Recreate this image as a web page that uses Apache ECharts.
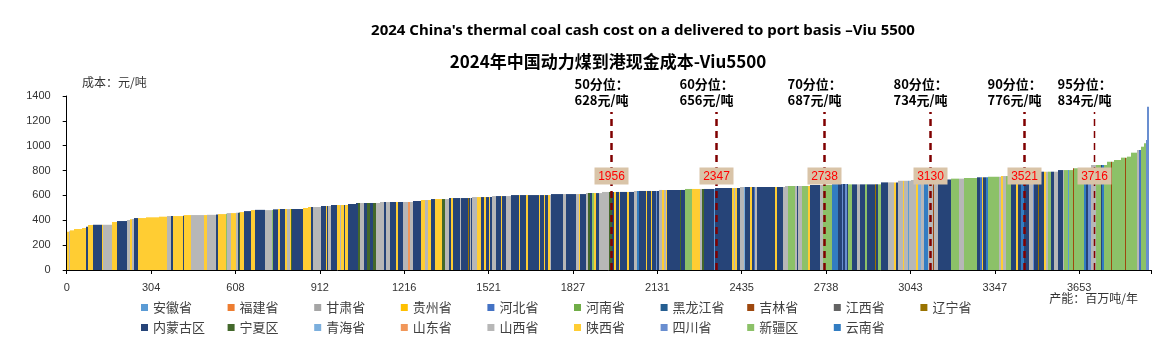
<!DOCTYPE html>
<html><head><meta charset="utf-8">
<script src="https://cdn.jsdelivr.net/npm/echarts@6/dist/echarts.min.js"></script>
<style>html,body{margin:0;padding:0;background:#fff}#c{width:1162px;height:358px}</style>
</head><body><div id="c"></div>
<script>
// ---------- DATA ----------
const provinces = ['安徽省','福建省','甘肃省','贵州省','河北省','河南省','黑龙江省','吉林省','江西省','辽宁省',
  '内蒙古区','宁夏区','青海省','山东省','山西省','陕西省','四川省','新疆区','云南省'];
const provColors = ['#5B9BD5','#ED7D31','#A5A5A5','#FFC000','#4472C4','#70AD47','#255E91','#9E480E','#636363','#997300',
  '#264478','#43682B','#7CAFDD','#F1975A','#B7B7B7','#FFCD33','#698ED0','#8CC168','#327DC2'];

// capacity of each mine block (Mt/yr), in cost order
const segCap = [
  7,5,16,26,16,6,20,30,6,30,18,36,12,6,8,16,28,48,29,12,7,36,5,24,48,12,30,10,26,4,16,18,6,5,4,14,24,17,36,
  22,5,20,6,19,6,11,4,4,38,18,12,8,28,16,5,4,12,20,10,5,10,4,11,30,6,8,12,12,12,10,12,12,14,10,12,24,6,18,18,6,12,30,14,10,12,14,25,12,12,10,6,20,
  4,5,24,4,4,5,4,18,14,10,5,13,4,8,12,18,4,14,18,30,4,20,8,40,4,14,4,12,4,5,42,12,36,12,4,20,6,10,8,6,6,12,12,24,12,6,5,13,4,26,5,19,12,6,24,4,14,4,8,
  6,4,8,12,6,8,4,44,7,14,24,30,6,6,36,6,60,6,6,6,12,12,6,18,6,6,6,6,66,5,25,6,12,24,6,6,12,24,6,36,12,30,24,12,6,6,6,6,
  12,18,12,18,6,30,5,5,12,24,24,6,6,18,6,12,6,6,18,6,12,12,12,18,6,12,48,30,16,50,10,5,5,11,6,42,6,6,12,18,18,6,12,12,
  18,12,6,12,6,6,12,6,6,12,12,12,18,6,12,6,12,4,38,6,6,12,18,18,6,6,12,14,4,6,24,14,5,5,12,24,6,6,10,8,6,4
];
// cash cost of each block (元/吨)
const segCost = [
  308,312,319,330,338,348,362,364,364,364,386,394,402,408,410,418,418,424,429,434,434,434,436,442,442,442,444,446,450,452,458,458,460,460,462,466,474,482,484,
  482,482,488,491,491,491,491,491,491,491,499,507,507,507,515,515,515,515,523,523,523,523,523,523,531,539,539,539,539,539,539,539,539,547,547,547,547,547,547,547,547,547,555,563,563,563,571,571,571,571,579,579,579,
  579,579,579,579,579,579,579,587,587,587,587,587,587,587,595,595,595,595,595,603,603,603,603,603,603,603,603,603,603,603,611,611,611,611,611,611,619,619,619,619,619,619,619,628,628,628,628,628,628,628,628,628,636,636,636,636,636,636,636,
  636,636,636,644,644,644,644,644,644,644,652,652,652,652,652,652,660,660,660,660,660,668,668,668,668,668,668,668,668,668,668,668,676,676,676,676,676,676,676,684,684,684,692,692,692,692,692,692,
  689,689,689,689,689,689,689,689,689,705,705,705,705,718,718,718,718,718,724,724,724,724,724,729,729,729,729,735,735,740,746,746,746,746,746,751,751,756,756,756,762,762,762,762,
  772,772,772,772,772,772,791,791,791,791,791,791,804,804,804,804,804,818,818,818,818,818,845,845,845,845,845,871,871,871,885,904,904,904,912,944,965,965,992,1019,1046,1314
];
// province index of each block
const segProv = [
  15,14,15,15,15,10,15,10,15,14,15,10,14,15,14,10,15,15,15,14,10,15,10,15,14,15,14,10,15,17,14,15,14,10,11,15,10,15,10,
  14,17,10,15,10,15,14,15,11,10,15,15,10,14,10,15,10,14,10,15,14,15,10,15,10,10,11,14,10,11,10,11,14,14,10,14,10,15,10,14,13,14,10,15,14,15,10,15,11,14,10,15,10,
  10,14,10,9,10,14,10,14,15,10,15,10,15,10,14,10,15,10,14,10,15,10,15,10,15,10,15,10,15,14,10,14,10,14,15,10,14,11,10,17,15,10,14,14,11,10,15,10,15,10,15,10,14,18,10,15,10,15,10,
  10,16,10,14,15,14,15,10,11,10,17,15,14,11,10,0,10,15,14,15,10,14,12,10,15,10,4,14,10,15,10,14,14,17,14,10,14,17,15,10,14,17,18,10,16,10,16,10,
  17,10,14,10,17,10,9,10,17,10,14,15,10,14,15,14,0,14,14,15,12,14,18,14,7,14,10,17,14,17,10,4,15,10,18,17,14,15,14,17,10,15,10,18,
  10,14,16,10,9,10,10,15,14,17,10,14,10,14,17,0,17,7,17,18,10,16,14,17,10,18,17,17,7,17,17,17,7,17,17,17,14,4,17,17,16,16
];

const xTickLabels = ['0','304','608','912','1216','1521','1827','2131','2435','2738','3043','3347','3653'];
const xTickStep = 304.4;
const totalCap = 3912;

const pctNames = ['50分位','60分位','70分位','80分位','90分位','95分位'];
const pctCost = [628,656,687,734,776,834];
const pctCap = [1956,2347,2738,3130,3521,3716];
const pctPos = [1964,2343,2733,3116,3455,3708];   // where the dashed lines sit in the picture

// ---------- BUILD ----------
const perProv = provinces.map(() => []);
let acc = 0;
segCap.forEach((w, i) => { perProv[segProv[i]].push([acc, acc + w, segCost[i]]); acc += w; });

const CJK = '"Noto Sans CJK SC", "Noto Sans", sans-serif';
const NUM = '"Liberation Sans", Arial, sans-serif';

function barRender(params, api) {
  const a = api.coord([api.value(0), api.value(2)]);
  const b = api.coord([api.value(1), 0]);
  const x0 = Math.round(a[0]), x1 = Math.round(b[0]);
  return { type: 'rect', shape: { x: x0, y: a[1], width: Math.max(x1 - x0, 1), height: b[1] - a[1] },
           style: { fill: api.visual('color') } };
}

function pctRender(params, api) {
  const i = params.dataIndex;
  const base = api.coord([api.value(0), 0]);
  const top = api.coord([api.value(0), 1271]);
  const mid = api.coord([api.value(0), 756]);
  const x = Math.round(base[0]) + 0.5;
  return { type: 'group', children: [
    { type: 'line', shape: { x1: x, y1: base[1], x2: x, y2: top[1] },
      style: { stroke: '#800000', lineWidth: i === 5 ? 1.5 : 2.5, lineDash: [7, 5] } },
    { type: 'rect', shape: { x: x - 17, y: mid[1] - 8.5, width: 34, height: 17 }, style: { fill: '#D9C4A8' } },
    { type: 'text', x: x, y: mid[1] + 1,
      style: { text: String(pctCap[i]), fill: '#FF0000', font: '12px ' + NUM, align: 'center', verticalAlign: 'middle',
               textAlign: 'center', textVerticalAlign: 'middle' } },
    { type: 'text', x: x - 37, y: top[1] - 4,
      style: { text: pctNames[i] + '：\n' + pctCost[i] + '元/吨', fill: '#000', font: 'bold 13px ' + CJK,
               lineHeight: 16, align: 'left', verticalAlign: 'bottom', textAlign: 'left', textVerticalAlign: 'bottom' } }
  ]};
}

const series = provinces.map((name, k) => ({
  type: 'custom', name, renderItem: barRender, data: perProv[k], encode: { x: [0, 1], y: 2 },
  itemStyle: { color: provColors[k] }, silent: true
}));
series.push({
  type: 'custom', name: 'pct', renderItem: pctRender, clip: false, z: 10, silent: true,
  data: pctPos.map((p, i) => [p, pctCost[i]]), encode: { x: 0, y: 1 }
});

// one legend block per province, laid out in a 10-column grid
const legends = provinces.map((p, i) => ({
  data: [p], left: 141 + (i % 10) * 86.6, top: i < 10 ? 301 : 321,
  orient: 'horizontal', itemWidth: 7, itemHeight: 7, itemGap: 0, icon: 'rect', selectedMode: false, padding: 0,
  textStyle: { fontSize: 13, color: '#404040', fontFamily: CJK }
}));

const chart = echarts.init(document.getElementById('c'), null, { renderer: 'canvas' });
chart.setOption({
  animation: false,
  backgroundColor: '#fff',
  grid: { left: 66.7, right: 11, top: 96, bottom: 88, containLabel: false },
  xAxis: {
    type: 'value', min: 0, max: totalCap, interval: xTickStep,
    axisLine: { lineStyle: { color: '#000', width: 1 } },
    axisTick: { show: true, length: 4, lineStyle: { color: '#000' } },
    splitLine: { show: false },
    axisLabel: {
      fontSize: 11, color: '#333', fontFamily: NUM, margin: 12,
      formatter: v => { const k = Math.round(v / xTickStep); return (Math.abs(v - k * xTickStep) < 1 && k < xTickLabels.length) ? xTickLabels[k] : ''; }
    }
  },
  yAxis: {
    type: 'value', min: 0, max: 1400, interval: 200,
    axisLine: { show: true, lineStyle: { color: '#000', width: 1 } },
    axisTick: { show: true, length: 4, lineStyle: { color: '#000' } },
    splitLine: { show: false },
    axisLabel: { fontSize: 11, color: '#333', fontFamily: NUM, margin: 16, formatter: v => String(v) }
  },
  legend: legends,
  graphic: [
    { type: 'text', x: 643, y: 31, style: { text: "2024 China's thermal coal cash cost on a delivered to port basis –Viu 5500",
        font: 'bold 15px "Noto Sans", sans-serif', fill: '#000', align: 'center', verticalAlign: 'middle', textAlign: 'center', textVerticalAlign: 'middle' } },
    { type: 'text', x: 608, y: 62, style: { text: '2024年中国动力煤到港现金成本-Viu5500',
        font: 'bold 17px ' + CJK, fill: '#000', align: 'center', verticalAlign: 'middle', textAlign: 'center', textVerticalAlign: 'middle' } },
    { type: 'text', x: 82, y: 82, style: { text: '成本：元/吨', font: '12px ' + CJK, fill: '#333',
        align: 'left', verticalAlign: 'middle', textAlign: 'left', textVerticalAlign: 'middle' } },
    { type: 'text', x: 1138, y: 298, style: { text: '产能：百万吨/年', font: '12px ' + CJK, fill: '#333',
        align: 'right', verticalAlign: 'middle', textAlign: 'right', textVerticalAlign: 'middle' } }
  ],
  series
});
</script>
</body></html>
